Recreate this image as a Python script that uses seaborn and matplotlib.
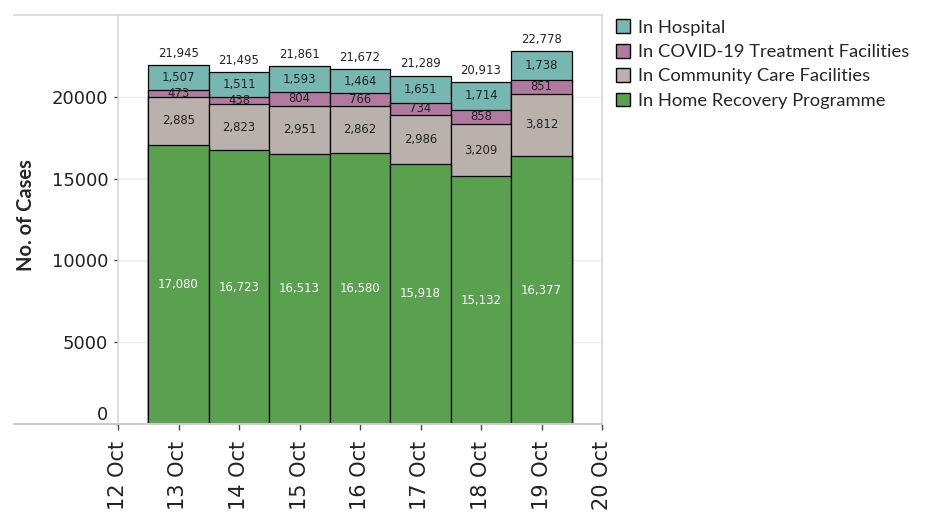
import pandas as pd
import matplotlib
matplotlib.use("Agg")
import matplotlib.pyplot as plt
import seaborn as sns
from matplotlib.patches import Patch

# Daily counts, 13-19 Oct
days = [13, 14, 15, 16, 17, 18, 19]
home = [17080, 16723, 16513, 16580, 15918, 15132, 16377]
community = [2885, 2823, 2951, 2862, 2986, 3209, 3812]
treatment = [473, 438, 804, 766, 734, 858, 851]
hospital = [1507, 1511, 1593, 1464, 1651, 1714, 1738]

tick_days = [12, 13, 14, 15, 16, 17, 18, 19, 20]
tick_labels = [f"{d} Oct" for d in tick_days]
y_ticks = [0, 5000, 10000, 15000, 20000]

layers = ["home", "community", "treatment", "hospital"]
layer_names = {
    "hospital": "In Hospital",
    "treatment": "In COVID-19 Treatment Facilities",
    "community": "In Community Care Facilities",
    "home": "In Home Recovery Programme",
}
layer_colors = {
    "hospital": "#76b7b2",
    "treatment": "#b07aa1",
    "community": "#bab0ac",
    "home": "#59a14f",
}

df = pd.DataFrame({"day": days, "home": home, "community": community,
                   "treatment": treatment, "hospital": hospital})
cum = df[layers].cumsum(axis=1)
cum["day"] = days

sns.set_theme(style="white")
plt.rcParams["font.family"] = ["DejaVu Sans"]

fig = plt.figure(figsize=(9.41, 5.29), dpi=100)
ax = fig.add_axes([118 / 941, 1 - 424 / 529, 484 / 941, 409 / 529])

# stacked bars: draw cumulative totals from the top layer down
for layer in reversed(layers):
    sns.barplot(data=cum, x="day", y=layer, native_scale=True, width=1,
                color=layer_colors[layer], saturation=1, edgecolor="black",
                linewidth=0.9, ax=ax, zorder=2)

# segment labels and totals
for i, d in enumerate(days):
    base = 0
    for layer in layers:
        v = df.loc[i, layer]
        ax.text(d, base + v / 2, f"{v:,}", ha="center", va="center", fontsize=8.4,
                color="white" if layer == "home" else "#222222", zorder=3)
        base += v
    ax.annotate(f"{base:,}", (d, base), xytext=(0, 8.5), textcoords="offset points",
                ha="center", va="center", fontsize=8.4, color="#222222")

ax.set_xlim(12, 20)
ax.set_ylim(0, 25000)
ax.set_xticks(tick_days)
ax.set_xticklabels(tick_labels, rotation=90, fontsize=15, color="#222222")
ax.set_yticks(y_ticks)
ax.set_yticklabels([str(v) for v in y_ticks], fontsize=13, color="#222222")
ax.get_yticklabels()[0].set_va("bottom")
ax.set_xlabel("")
ax.set_ylabel("No. of Cases", fontsize=14.5, fontweight="bold", family=["Lato", "DejaVu Sans"])
ax.yaxis.set_label_coords(-0.17, 0.51)

ax.tick_params(axis="x", bottom=True, length=4, width=1, color="#444444", pad=8)
ax.tick_params(axis="y", left=True, length=3, width=1, color="#444444", pad=4)
ax.yaxis.grid(True, color="#eeeeee", linewidth=1)
ax.set_axisbelow(True)

for side in ["top", "right", "left"]:
    ax.spines[side].set_color("#d8d8d8")
    ax.spines[side].set_linewidth(1.2)
ax.spines["bottom"].set_color("#cccccc")
ax.spines["bottom"].set_linewidth(1.5)

# top and bottom rules continue to the left edge
for yy, c in [(0, "#cccccc"), (1, "#d8d8d8")]:
    ax.plot([-0.215, 0], [yy, yy], transform=ax.transAxes, color=c,
            linewidth=1.5 if yy == 0 else 1.2, clip_on=False)

handles = [Patch(facecolor=layer_colors[k], edgecolor="black", linewidth=1)
           for k in ["hospital", "treatment", "community", "home"]]
labels = [layer_names[k] for k in ["hospital", "treatment", "community", "home"]]
fig.legend(handles, labels, loc="upper left", bbox_to_anchor=(610 / 941, 1 - 14 / 529),
           frameon=False, prop={"family": ["Lato", "DejaVu Sans"], "size": 13.2},
           handlelength=0.78, handleheight=0.78, handletextpad=0.45, labelspacing=0.44,
           borderaxespad=0, borderpad=0.3)

plt.savefig("out.png", dpi=100)
plt.close()
